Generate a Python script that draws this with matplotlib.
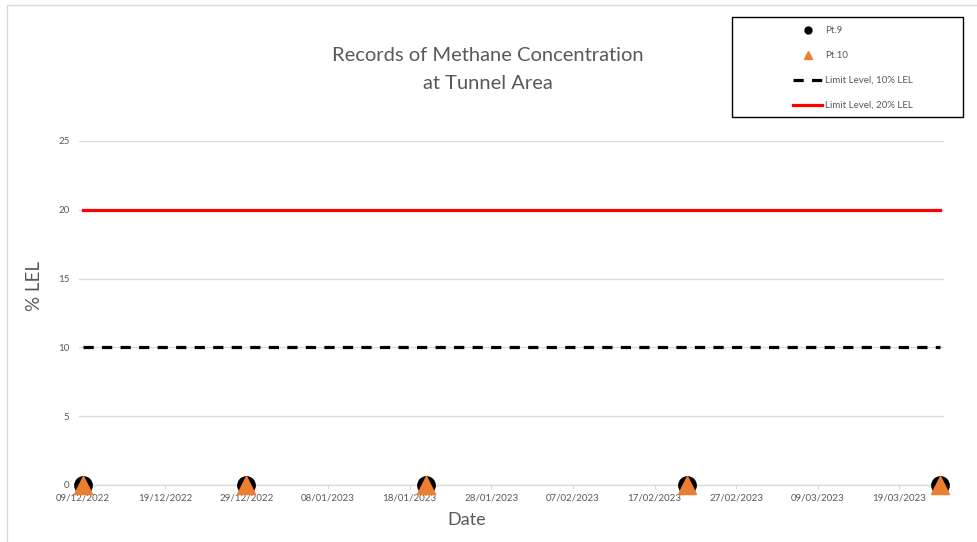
import numpy as np
import pandas as pd
import matplotlib
matplotlib.use('Agg')
import matplotlib.pyplot as plt
import matplotlib.dates as mdates
from matplotlib.patches import Rectangle

plt.rcParams['font.family'] = ['Lato', 'DejaVu Sans']

TEXT = '#595959'
GRID = '#D9D9D9'

# monitoring records
dates = pd.to_datetime(['2022-12-09', '2022-12-29', '2023-01-20', '2023-02-21', '2023-03-24'])
pt9 = [0, 0, 0, 0, 0]
pt10 = [0, 0, 0, 0, 0]
limit_10 = [10, 10, 10, 10, 10]
limit_20 = [20, 20, 20, 20, 20]

y_ticks = [0, 5, 10, 15, 20, 25]
tick_start, tick_step_days = '2022-12-09', 10

W, H = 977, 542
fig = plt.figure(figsize=(W / 100, H / 100), dpi=100)
ax = fig.add_axes([79.2 / W, 1 - 485 / H, 865 / W, 344 / H])

ax.plot(dates, limit_20, color='#FF0000', lw=2.3, label='Limit Level, 20% LEL', zorder=2)
ax.plot(dates, limit_10, color='black', lw=2.3, dashes=(3.2, 2.6), label='Limit Level, 10% LEL', zorder=2)
ax.plot(dates, pt9, 'o', color='black', ms=12.5, ls='none', label='Pt.9', clip_on=False, zorder=4)
ax.plot(dates, pt10, '^', color='#ED7D31', ms=13, ls='none', label='Pt.10', clip_on=False, zorder=5)

half_day = pd.Timedelta(hours=12)
ax.set_xlim(dates[0] - half_day, dates[-1] + half_day)
ax.set_ylim(0, 25)

ax.set_yticks(y_ticks)
ax.yaxis.grid(True, color=GRID, lw=0.9)
ax.set_axisbelow(True)
ax.tick_params(axis='y', length=0, pad=7, labelsize=7, labelcolor=TEXT)

xt = pd.date_range(tick_start, dates[-1], freq=f'{tick_step_days}D')
ax.set_xticks(xt)
ax.xaxis.set_major_formatter(mdates.DateFormatter('%d/%m/%Y'))
ax.tick_params(axis='x', length=3, width=0.8, color=GRID, pad=3, labelsize=7, labelcolor=TEXT)

for side in ['top', 'right', 'left']:
    ax.spines[side].set_visible(False)
ax.spines['bottom'].set_color(GRID)
ax.spines['bottom'].set_linewidth(0.9)

ax.set_xlabel('Date', fontsize=13, color=TEXT)
ax.xaxis.set_label_coords((467 - 79.2) / 865, -(520 - 485) / 344)
ax.xaxis.label.set_va('center')
ax.set_ylabel('% LEL', fontsize=13.5, color=TEXT)
ax.yaxis.set_label_coords((35 - 79.2) / 865, (485 - 286) / 344)
ax.yaxis.label.set_va('center')

fig.text(488 / W, 1 - 69.5 / H, 'Records of Methane Concentration\nat Tunnel Area',
         ha='center', va='center', fontsize=14.5, color=TEXT, linespacing=1.75)

# chart area border (left and top edges visible)
fig.add_artist(Rectangle((6.5 / W, -0.1), 1.2, 1 - 5 / H + 0.1, transform=fig.transFigure,
                         fill=False, edgecolor=GRID, lw=1.0))

# legend box
fig.add_artist(Rectangle((732 / W, 1 - 117 / H), 231 / W, 100 / H, transform=fig.transFigure,
                         fill=False, edgecolor='black', lw=1.0))
handles, labels = ax.get_legend_handles_labels()
order = [2, 3, 1, 0]
leg = fig.legend([handles[i] for i in order], [labels[i] for i in order],
                 loc='upper left', bbox_to_anchor=(793 / W, 1 - 26 / H),
                 frameon=False, fontsize=7, labelcolor=TEXT, markerscale=0.4,
                 handlelength=3.0, handletextpad=0.3, labelspacing=1.65,
                 borderpad=0, borderaxespad=0)

fig.savefig('out.png', dpi=100)
